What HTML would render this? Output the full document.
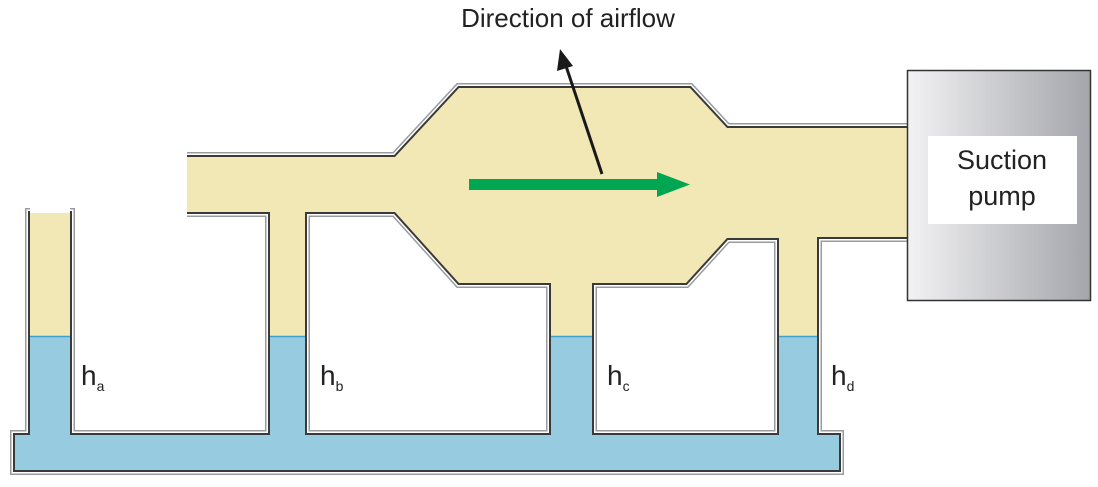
<!DOCTYPE html>
<html><head><meta charset="utf-8"><style>
html,body{margin:0;padding:0;background:#fff;}
svg{display:block;}
text{font-family:"Liberation Sans",Arial,sans-serif;fill:#222;}
</style></head><body>
<svg width="1098" height="487" viewBox="0 0 1098 487" xmlns="http://www.w3.org/2000/svg">
<defs>
<linearGradient id="pg" x1="0" x2="1" y1="0" y2="0">
<stop offset="0" stop-color="#f2f2f4"/><stop offset="1" stop-color="#a4a5aa"/>
</linearGradient>
<path id="fl" fill-rule="evenodd" clip-rule="evenodd" d="M187,157 L395,157 L459,88 L690,88 L727,128 L907,128 L907,237 L817,237 L817,435 L839,435 L839,470 L15,470 L15,435 L30,435 L30,213 L70,213 L70,435 L270,435 L270,212 L187,212 Z
M305,212 L395,212 L459,283 L551,283 L551,435 L305,435 Z
M592,283 L686,283 L727,238 L779,238 L779,435 L592,435 Z"/>
<clipPath id="cp"><path clip-rule="evenodd" d="M187,157 L395,157 L459,88 L690,88 L727,128 L907,128 L907,237 L817,237 L817,435 L839,435 L839,470 L15,470 L15,435 L30,435 L30,213 L70,213 L70,435 L270,435 L270,212 L187,212 Z
M305,212 L395,212 L459,283 L551,283 L551,435 L305,435 Z
M592,283 L686,283 L727,238 L779,238 L779,435 L592,435 Z"/></clipPath>
</defs>
<use href="#fl" fill="none" stroke="#9a9b9f" stroke-width="10" stroke-linejoin="miter"/>
<use href="#fl" fill="none" stroke="#fff" stroke-width="7"/>
<use href="#fl" fill="none" stroke="#3a3a3a" stroke-width="4"/>
<rect x="170" y="150" width="17" height="70" fill="#fff"/>
<rect x="30" y="203" width="40" height="10" fill="#fff"/>
<use href="#fl" fill="#f2e8b6"/>
<g clip-path="url(#cp)">
<rect x="0" y="336" width="907" height="150" fill="#96cbe0"/>
<line x1="0" y1="336.5" x2="907" y2="336.5" stroke="#3ea2cc" stroke-width="1.5"/>
</g>
<!-- pump -->
<rect x="907.5" y="70.5" width="183" height="230" fill="url(#pg)" stroke="#333" stroke-width="1.5"/>
<rect x="928" y="136" width="149" height="88" fill="#fff"/>
<text x="1002" y="169" font-size="27" text-anchor="middle">Suction</text>
<text x="1002" y="205" font-size="27" text-anchor="middle">pump</text>
<!-- title + pointer -->
<text x="568" y="27" font-size="26" text-anchor="middle">Direction of airflow</text>
<line x1="602" y1="174" x2="566" y2="66" stroke="#1a1a1a" stroke-width="3"/>
<polygon points="560,49 557,71 573,66" fill="#1a1a1a"/>
<!-- green arrow -->
<rect x="469" y="179" width="190" height="11" fill="#00a651"/>
<polygon points="657,172 690,184.5 657,197" fill="#00a651"/>
<!-- labels -->
<text x="81" y="385" font-size="28">h<tspan font-size="14" dy="6">a</tspan></text>
<text x="320" y="385" font-size="28">h<tspan font-size="14" dy="6">b</tspan></text>
<text x="607" y="385" font-size="28">h<tspan font-size="14" dy="6">c</tspan></text>
<text x="831" y="385" font-size="28">h<tspan font-size="14" dy="6">d</tspan></text>
</svg>
</body></html>
